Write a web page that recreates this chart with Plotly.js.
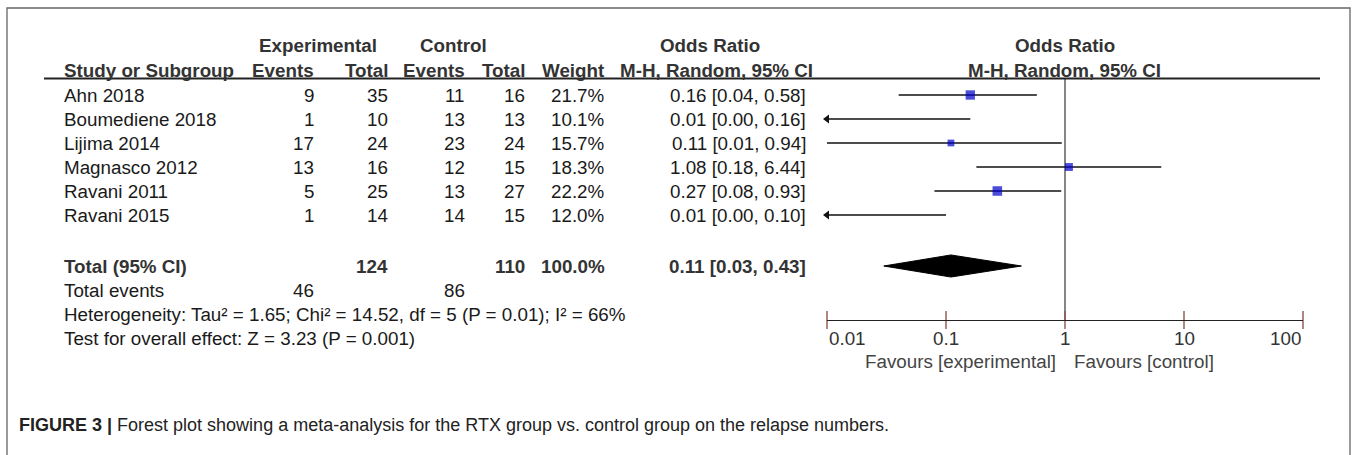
<!DOCTYPE html>
<html><head><meta charset="utf-8">
<script src="https://cdn.plot.ly/plotly-3.0.1.min.js"></script>
<style>html,body{margin:0;padding:0;background:#fff;}#chart{width:1357px;height:455px;}</style>
</head><body><div id="chart"></div>
<script>
// ---- data ----
const studies = ['Ahn 2018','Boumediene 2018','Lijima 2014','Magnasco 2012','Ravani 2011','Ravani 2015'];
const expEvents = [9,1,17,13,5,1];
const expTotal = [35,10,24,16,25,14];
const ctrlEvents = [11,13,23,12,13,14];
const ctrlTotal = [16,13,24,15,27,15];
const weights = [21.7,10.1,15.7,18.3,22.2,12.0];
const orVal = [0.16,0.01,0.11,1.08,0.27,0.01];
const ciLo = [0.04,0.00,0.01,0.18,0.08,0.00];
const ciHi = [0.58,0.16,0.94,6.44,0.93,0.10];
const pooled = [0.11,0.03,0.43];          // OR, lower, upper
const totalN = [124,110];                 // experimental, control
const totalEvents = [46,86];
const heteroText = 'Heterogeneity: Tau² = 1.65; Chi² = 14.52, df = 5 (P = 0.01); I² = 66%';
const overallText = 'Test for overall effect: Z = 3.23 (P = 0.001)';
const tickVals = [0.01,0.1,1,10,100];
const tickText = ['0.01','0.1','1','10','100'];
const captionText = '<b>FIGURE 3 |</b> Forest plot showing a meta-analysis for the RTX group vs. control group on the relapse numbers.';

// ---- layout helpers ----
const W = 1357, H = 455;
const ROW0 = 95, STEP = 24;              // pixel of first study row, row pitch
const rowOf = p => (p - ROW0) / STEP;
const FONT = 'Liberation Sans, Arial, sans-serif';
const FS = 18.8;
const X_MIN = 0.01, X_MAX = 100;

const R = {
  head1: rowOf(45), head2: rowOf(70), line: rowOf(78.5),
  total: rowOf(266), tevents: rowOf(290), hetero: rowOf(314), test: rowOf(338),
  axis: rowOf(320), ticklab: rowOf(338), favours: rowOf(361)
};
const COL = { name: 62, expE: 316, expT: 390, ctlE: 467, ctlT: 527, wt: 607, or: 808 };

const ann = [];
function txt(text, xpx, row, anchor, opts) {
  opts = opts || {};
  ann.push({ text: text, xref: 'paper', yref: 'y', x: xpx / W, y: row, xanchor: anchor, yanchor: 'middle',
    showarrow: false, font: { family: FONT, size: opts.size || FS, color: opts.color || '#1a1a1a' } });
}
const fmt2 = v => v.toFixed(2);
const orStr = (o, l, h) => fmt2(o) + ' [' + fmt2(l) + ', ' + fmt2(h) + ']';

// headers
const HC = '#333';
txt('<b>Experimental</b>', 318, R.head1, 'center', {color: HC});
txt('<b>Control</b>', 453, R.head1, 'center', {color: HC});
txt('<b>Odds Ratio</b>', 710, R.head1, 'center', {color: HC});
txt('<b>Odds Ratio</b>', 1065, R.head1, 'center', {color: HC});
txt('<b>Study or Subgroup</b>', COL.name, R.head2, 'left', {color: HC});
txt('<b>Events</b>', COL.expE, R.head2, 'right', {color: HC});
txt('<b>Total</b>', COL.expT, R.head2, 'right', {color: HC});
txt('<b>Events</b>', COL.ctlE, R.head2, 'right', {color: HC});
txt('<b>Total</b>', COL.ctlT, R.head2, 'right', {color: HC});
txt('<b>Weight</b>', COL.wt, R.head2, 'right', {color: HC});
txt('<b>M-H, Random, 95% CI</b>', 716, R.head2, 'center', {color: HC});
txt('<b>M-H, Random, 95% CI</b>', 1064, R.head2, 'center', {color: HC});

// study rows
studies.forEach((s, i) => {
  txt(s, COL.name, i, 'left');
  txt(String(expEvents[i]), COL.expE, i, 'right');
  txt(String(expTotal[i]), COL.expT, i, 'right');
  txt(String(ctrlEvents[i]), COL.ctlE, i, 'right');
  txt(String(ctrlTotal[i]), COL.ctlT, i, 'right');
  txt(weights[i].toFixed(1) + '%', COL.wt, i, 'right');
  txt(orStr(orVal[i], ciLo[i], ciHi[i]), COL.or, i, 'right');
});
// totals
const wSum = weights.reduce((a, b) => a + b, 0);
txt('<b>Total (95% CI)</b>', COL.name, R.total, 'left', {color: HC});
txt('<b>' + totalN[0] + '</b>', COL.expT, R.total, 'right', {color: HC});
txt('<b>' + totalN[1] + '</b>', COL.ctlT, R.total, 'right', {color: HC});
txt('<b>' + wSum.toFixed(1) + '%</b>', COL.wt, R.total, 'right', {color: HC});
txt('<b>' + orStr(pooled[0], pooled[1], pooled[2]) + '</b>', COL.or, R.total, 'right', {color: HC});
txt('Total events', COL.name, R.tevents, 'left');
txt(String(totalEvents[0]), COL.expE, R.tevents, 'right');
txt(String(totalEvents[1]), COL.ctlE, R.tevents, 'right');
txt(heteroText, COL.name, R.hetero, 'left');
txt(overallText, COL.name, R.test, 'left');

// tick labels (edge labels aligned inward, as in RevMan)
const tickAnchor = tickVals.map((v, k) => k === 0 ? 'left' : (k === tickVals.length - 1 ? 'right' : 'center'));
tickVals.forEach((v, k) => {
  ann.push({ text: tickText[k], xref: 'x', yref: 'y', x: Math.log10(v), y: R.ticklab, xanchor: tickAnchor[k],
    yanchor: 'middle', showarrow: false, font: { family: FONT, size: FS, color: '#333' } });
});
ann.push({ text: 'Favours [experimental]', xref: 'x', yref: 'y', x: 0, xshift: -7, y: R.favours, xanchor: 'right',
  yanchor: 'middle', showarrow: false, font: { family: FONT, size: FS, color: '#444' } });
ann.push({ text: 'Favours [control]', xref: 'x', yref: 'y', x: 0, xshift: 7, y: R.favours, xanchor: 'left',
  yanchor: 'middle', showarrow: false, font: { family: FONT, size: FS, color: '#444' } });
// caption
ann.push({ text: captionText, xref: 'paper', yref: 'paper', x: 17 / W, y: 1 - 425 / H, xanchor: 'left',
  yanchor: 'middle', showarrow: false, font: { family: FONT, size: 18, color: '#222' } });

// ---- traces ----
const ciX = [], ciY = [], arX = [], arY = [];
studies.forEach((s, i) => {
  const lo = ciLo[i] < X_MIN ? X_MIN : ciLo[i];
  ciX.push(lo, ciHi[i], null); ciY.push(i, i, null);
  if (ciLo[i] < X_MIN) { arX.push(X_MIN); arY.push(i); }
});
const sqX = [], sqY = [], sqS = [];
studies.forEach((s, i) => { if (orVal[i] > X_MIN) { sqX.push(orVal[i]); sqY.push(i); sqS.push(weights[i] * 0.43); } });

const DH = 0.46;
const traces = [
  { type: 'scatter', mode: 'lines', x: [1, 1], y: [R.line, R.axis], line: { color: '#444', width: 1.3 }, hoverinfo: 'skip' },
  { type: 'scatter', mode: 'lines', x: ciX, y: ciY, line: { color: '#111', width: 1.4 }, hoverinfo: 'skip' },
  { type: 'scatter', mode: 'markers', x: arX, y: arY, cliponaxis: false,
    marker: { symbol: 'triangle-left', size: 8, color: '#111' }, hoverinfo: 'skip' },
  { type: 'scatter', mode: 'markers', x: sqX, y: sqY, cliponaxis: false,
    marker: { symbol: 'square', size: sqS, color: '#0000cc', line: { width: 0 } }, hoverinfo: 'skip' },
  { type: 'scatter', mode: 'lines', fill: 'toself', fillcolor: '#000',
    x: [pooled[1], pooled[0], pooled[2], pooled[0], pooled[1]],
    y: [R.total, R.total - DH, R.total, R.total + DH, R.total], line: { color: '#000', width: 1 }, hoverinfo: 'skip' },
  { type: 'scatter', mode: 'markers', x: tickVals, y: tickVals.map(() => R.axis), cliponaxis: false,
    marker: { symbol: 'line-ns-open', size: 13, line: { color: '#222', width: 1.4 } }, hoverinfo: 'skip' }
];

const layout = {
  width: W, height: H, margin: { l: 0, r: 0, t: 0, b: 0 }, showlegend: false,
  paper_bgcolor: '#fff', plot_bgcolor: 'rgba(0,0,0,0)',
  xaxis: { type: 'log', range: [Math.log10(X_MIN), Math.log10(X_MAX)], domain: [827 / W, 1303 / W],
    anchor: 'free', position: 1 - (ROW0 + R.axis * STEP) / H, showline: true, linecolor: '#222', linewidth: 1.4,
    ticks: '', showticklabels: false, showgrid: false, zeroline: false, fixedrange: true },
  yaxis: { range: [rowOf(H), rowOf(0)], domain: [0, 1], visible: false, showgrid: false, zeroline: false, fixedrange: true },
  annotations: ann,
  shapes: [
    { type: 'line', xref: 'paper', yref: 'y', x0: 44 / W, x1: 1320 / W, y0: R.line, y1: R.line, line: { color: '#222', width: 2 } },
    { type: 'rect', xref: 'paper', yref: 'paper', x0: 7 / W, x1: 1350 / W, y0: -0.1, y1: 1 - 8 / H, line: { color: '#666', width: 1.3 } }
  ]
};
Plotly.newPlot('chart', traces, layout, { staticPlot: true, displayModeBar: false });
</script></body></html>
